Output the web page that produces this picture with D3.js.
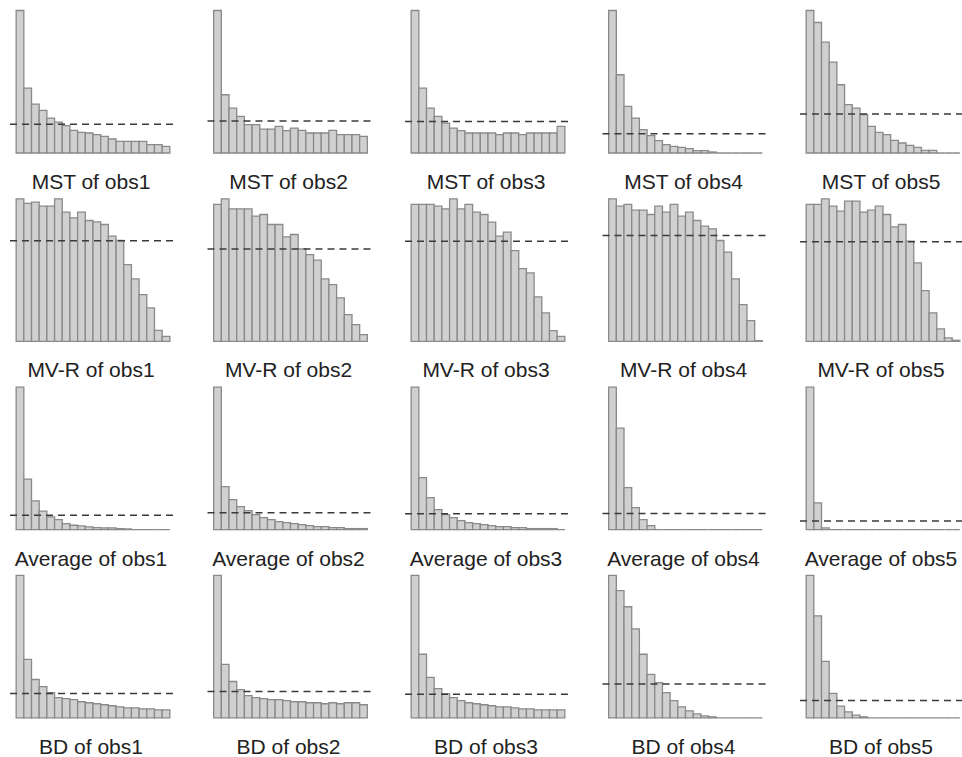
<!DOCTYPE html>
<html>
<head>
<meta charset="utf-8">
<script src="https://cdn.jsdelivr.net/npm/d3@7"></script>
<style>
  body { margin: 0; background: #fff; }
</style>
</head>
<body>
<div id="chart"></div>
<script>
var width = 962, height = 757;

// row and column names
var methods = ["MST", "MV-R", "Average", "BD"];
var obs = ["obs1", "obs2", "obs3", "obs4", "obs5"];

// bin heights (relative frequencies, 20 bins each)
var mst_obs1 = [428, 195, 147, 128, 105, 93, 82, 68, 62, 60, 55, 50, 42, 35, 35, 35, 35, 25, 25, 20];
var mst_obs2 = [428, 175, 135, 110, 85, 85, 72, 72, 80, 67, 75, 68, 60, 60, 60, 68, 55, 55, 55, 50];
var mst_obs3 = [428, 195, 135, 110, 90, 75, 67, 60, 60, 60, 60, 55, 60, 60, 55, 60, 60, 60, 60, 80];
var mst_obs4 = [428, 235, 140, 105, 70, 52, 37, 25, 20, 17, 13, 7, 7, 3, 0, 0, 0, 0, 0, 0];
var mst_obs5 = [428, 392, 333, 273, 205, 145, 135, 115, 80, 62, 55, 38, 30, 23, 17, 8, 8, 0, 0, 0];

var mvr_obs1 = [427, 413, 417, 405, 405, 427, 387, 370, 387, 362, 358, 350, 315, 302, 230, 187, 140, 100, 33, 15];
var mvr_obs2 = [410, 427, 397, 397, 397, 375, 380, 350, 350, 313, 320, 277, 260, 243, 187, 170, 130, 80, 50, 20];
var mvr_obs3 = [410, 410, 410, 405, 397, 427, 397, 410, 387, 380, 357, 315, 327, 272, 218, 205, 133, 85, 32, 15];
var mvr_obs4 = [427, 405, 410, 393, 393, 380, 405, 387, 410, 375, 387, 362, 345, 337, 302, 267, 187, 110, 62, 2];
var mvr_obs5 = [410, 410, 427, 405, 390, 420, 420, 387, 393, 405, 380, 343, 350, 300, 235, 152, 85, 37, 10, 3];

var avg_obs1 = [426, 151, 86, 55, 38, 30, 18, 13, 11, 8, 6, 5, 5, 3, 2, 0, 0, 0, 0, 0];
var avg_obs2 = [428, 129, 90, 69, 57, 45, 36, 30, 24, 21, 18, 15, 12, 9, 9, 6, 6, 3, 3, 3];
var avg_obs3 = [428, 156, 96, 60, 45, 36, 27, 21, 18, 15, 12, 9, 9, 6, 6, 3, 3, 3, 3, 0];
var avg_obs4 = [428, 305, 126, 66, 30, 12, 0, 0, 0, 0, 0, 0, 0, 0, 0, 0, 0, 0, 0, 0];
var avg_obs5 = [428, 80, 5, 0, 0, 0, 0, 0, 0, 0, 0, 0, 0, 0, 0, 0, 0, 0, 0, 0];

var bd_obs1 = [423, 174, 114, 93, 75, 60, 57, 54, 48, 45, 42, 39, 36, 33, 30, 30, 27, 27, 24, 24];
var bd_obs2 = [423, 159, 108, 84, 66, 60, 57, 54, 54, 51, 48, 48, 45, 45, 42, 45, 42, 45, 45, 39];
var bd_obs3 = [423, 189, 120, 87, 72, 60, 51, 45, 42, 39, 36, 33, 33, 30, 27, 27, 24, 24, 24, 24];
var bd_obs4 = [423, 378, 330, 264, 189, 129, 105, 75, 51, 33, 21, 12, 6, 3, 0, 0, 0, 0, 0, 0];
var bd_obs5 = [423, 303, 168, 73, 35, 18, 8, 3, 0, 0, 0, 0, 0, 0, 0, 0, 0, 0, 0, 0];

var grid = [
  [mst_obs1, mst_obs2, mst_obs3, mst_obs4, mst_obs5],
  [mvr_obs1, mvr_obs2, mvr_obs3, mvr_obs4, mvr_obs5],
  [avg_obs1, avg_obs2, avg_obs3, avg_obs4, avg_obs5],
  [bd_obs1, bd_obs2, bd_obs3, bd_obs4, bd_obs5]
];

var svg = d3.select("#chart")
  .append("svg")
  .attr("width", width)
  .attr("height", height)
  .style("font-family", "Arial, 'Liberation Sans', sans-serif");

var colStep = 197.5, rowStep = 188.3;
var plotW = 166, barH = 142.5;

grid.forEach(function(row, r) {
  row.forEach(function(values, c) {
    var left = 10 + colStep * c;
    var base = 153 + rowStep * r;
    var nb = values.length;

    // R style 4% padding around the bins
    var x = d3.scaleLinear()
      .domain([-0.04 * nb, nb * 1.04])
      .range([left, left + plotW]);
    var y = d3.scaleLinear()
      .domain([0, d3.max(values)])
      .range([base, base - barH]);

    var g = svg.append("g");

    // paths, so that empty bins still show as a line on the base
    g.selectAll("path.bar")
      .data(values)
      .enter()
      .append("path")
      .attr("class", "bar")
      .attr("d", function(d, i) {
        return "M" + x(i) + "," + base + "V" + y(d) + "H" + x(i + 1) + "V" + base + "Z";
      })
      .attr("fill", "#d0d0d0")
      .attr("stroke", "#8a8a8a")
      .attr("stroke-width", 1.3);

    // dashed line at the mean bin height
    var m = d3.mean(values);
    g.append("line")
      .attr("x1", left)
      .attr("x2", left + plotW)
      .attr("y1", y(m))
      .attr("y2", y(m))
      .attr("stroke", "#3a3a3a")
      .attr("stroke-width", 1.5)
      .attr("stroke-dasharray", "7,5");

    g.append("text")
      .attr("x", left + plotW / 2 - 2)
      .attr("y", base + 36)
      .attr("text-anchor", "middle")
      .attr("font-size", "21px")
      .attr("fill", "#222")
      .text(methods[r] + " of " + obs[c]);
  });
});
</script>
</body>
</html>
